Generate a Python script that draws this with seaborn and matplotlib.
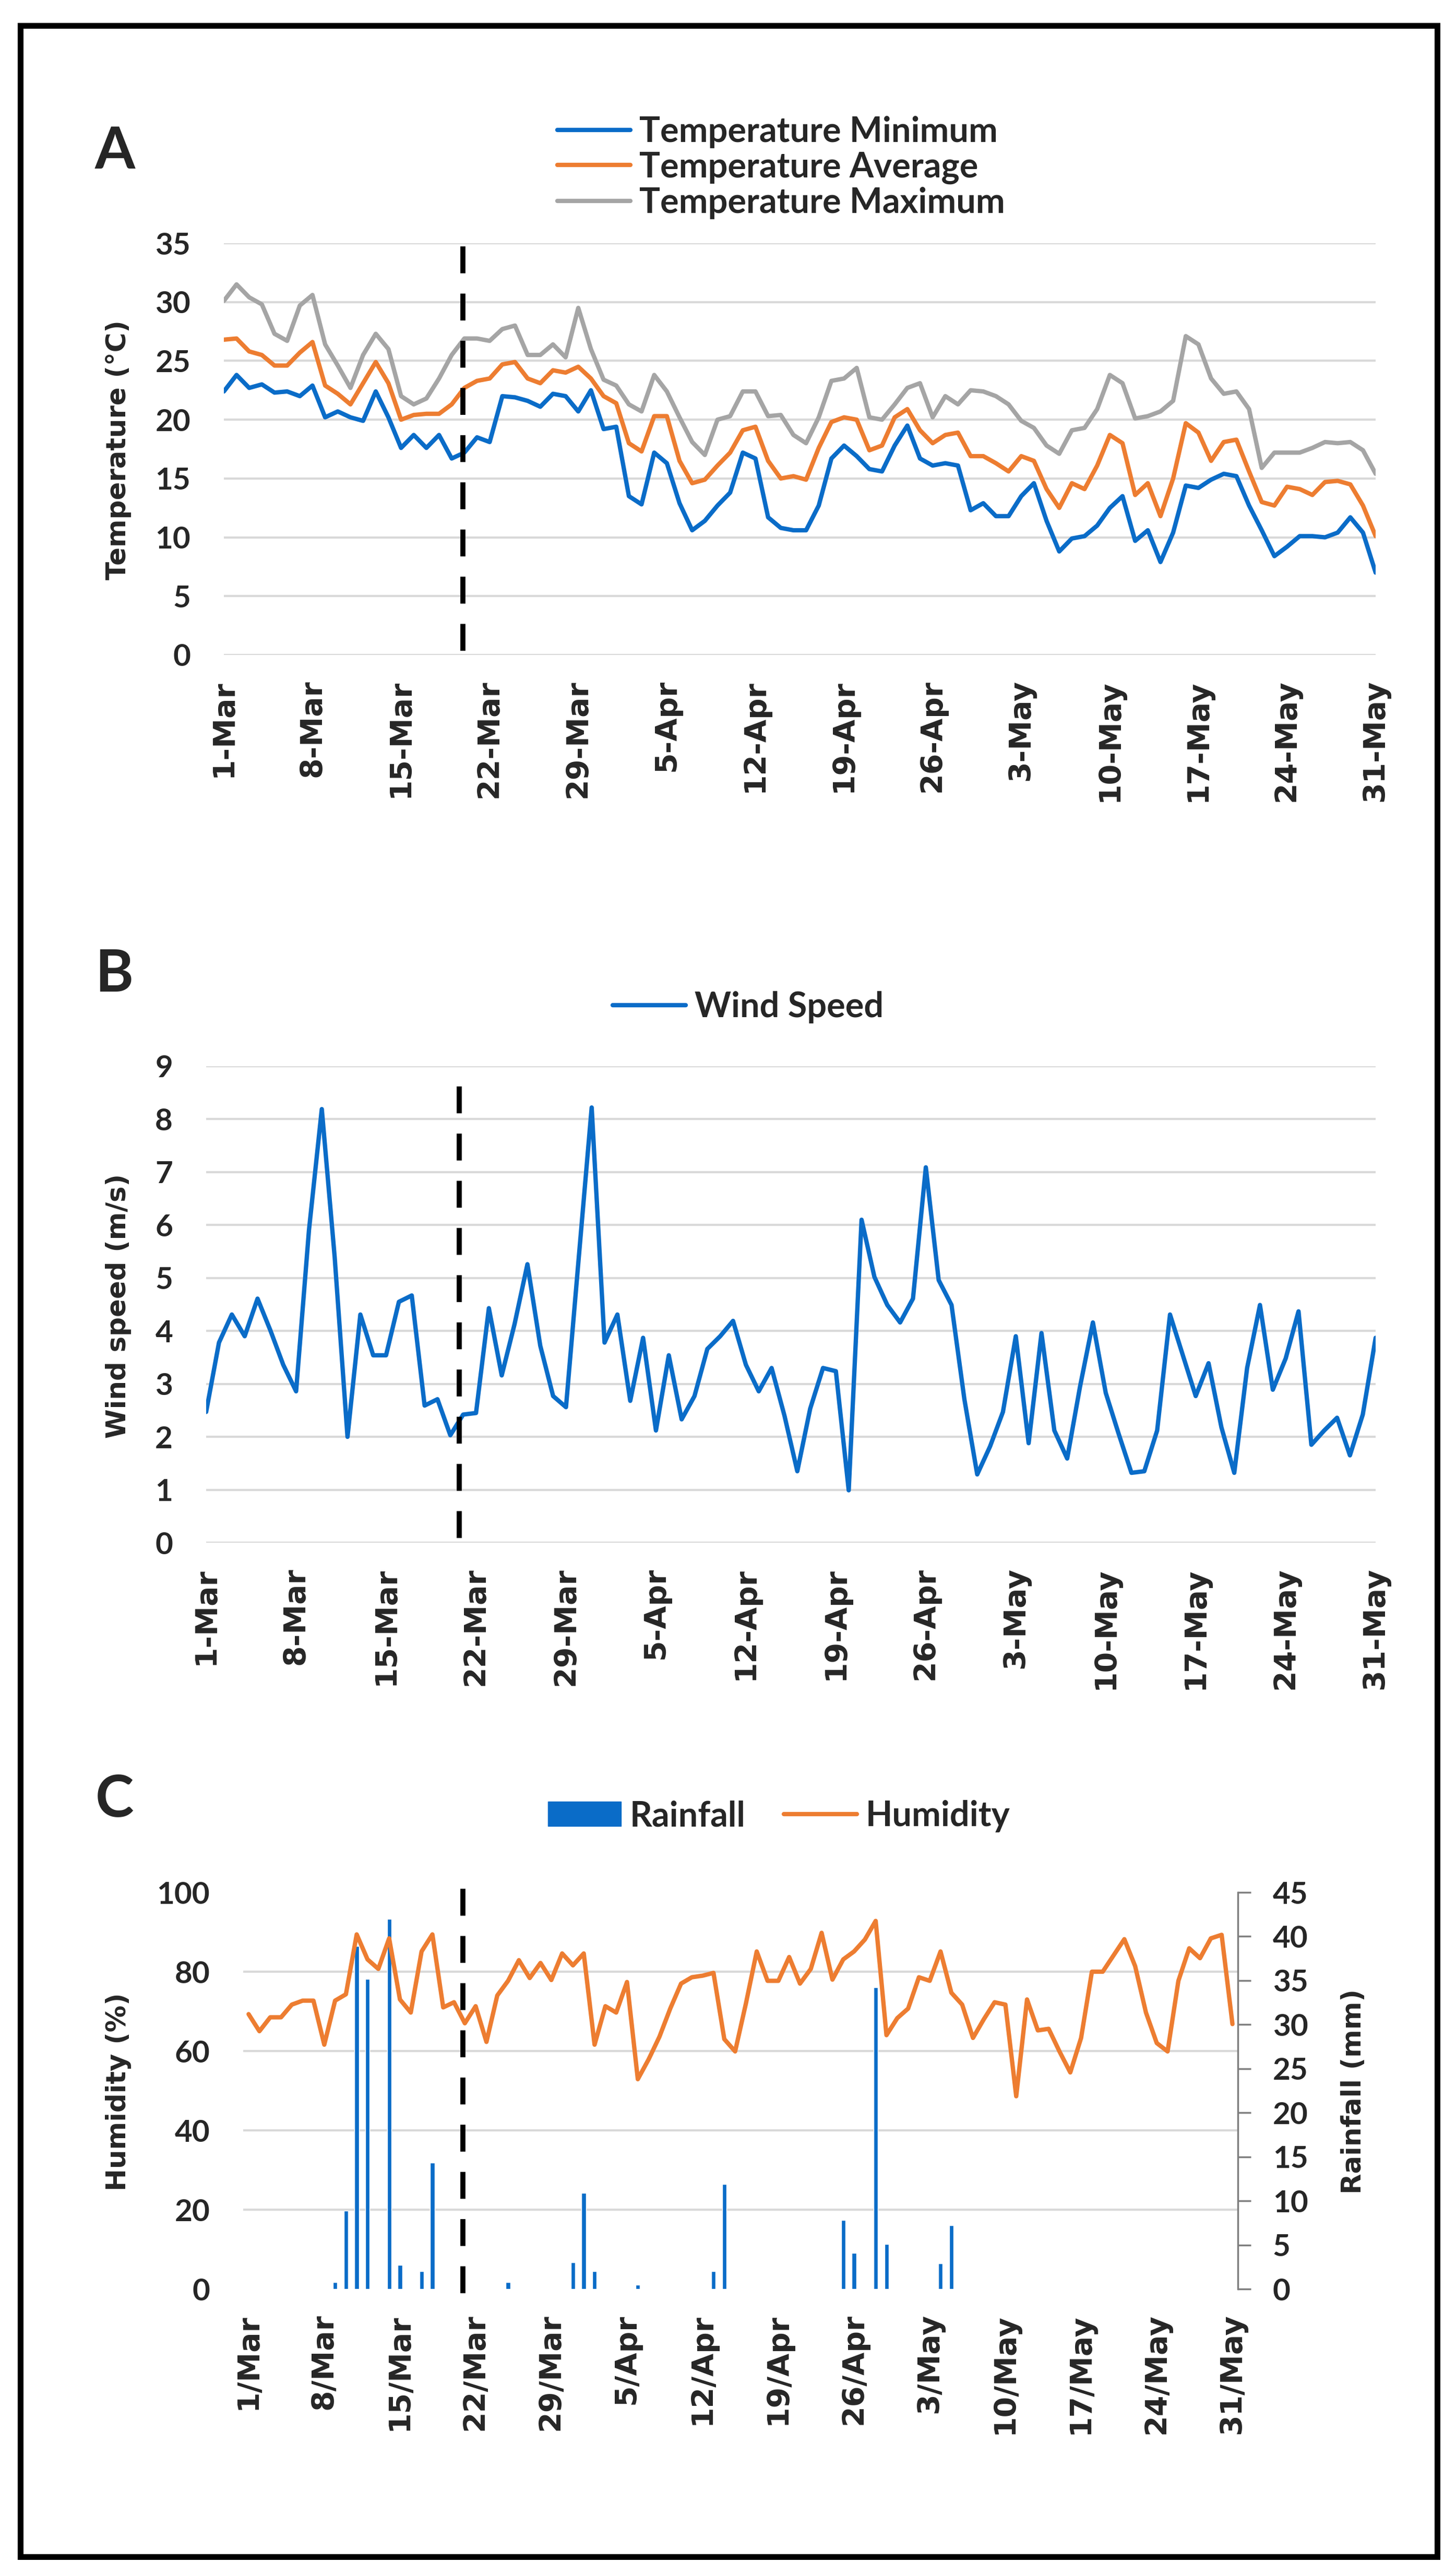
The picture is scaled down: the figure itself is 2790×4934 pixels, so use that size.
import matplotlib
matplotlib.use("Agg")
import matplotlib.pyplot as plt
from matplotlib.patches import Rectangle, Patch
from matplotlib.lines import Line2D
import numpy as np
import pandas as pd
import seaborn as sns

# daily values, 1 Mar .. 31 May (92 days)
t_min = [22.4, 23.8, 22.7, 23.0, 22.3, 22.4, 22.0, 22.9, 20.2, 20.7,
         20.2, 19.9, 22.4, 20.2, 17.6, 18.7, 17.6, 18.7, 16.7, 17.2,
         18.5, 18.1, 22.0, 21.9, 21.6, 21.1, 22.2, 22.0, 20.7, 22.5,
         19.2, 19.4, 13.5, 12.8, 17.2, 16.3, 12.9, 10.6, 11.4, 12.7,
         13.8, 17.2, 16.7, 11.7, 10.8, 10.6, 10.6, 12.7, 16.7, 17.8,
         16.9, 15.8, 15.6, 17.8, 19.5, 16.7, 16.1, 16.3, 16.1, 12.3,
         12.9, 11.8, 11.8, 13.5, 14.6, 11.4, 8.8, 9.9, 10.1, 11.0,
         12.5, 13.5, 9.7, 10.6, 7.9, 10.4, 14.4, 14.2, 14.9, 15.4,
         15.2, 12.7, 10.6, 8.4, 9.2, 10.1, 10.1, 10.0, 10.4, 11.7,
         10.4, 7.0]
t_avg = [26.8, 26.9, 25.8, 25.5, 24.6, 24.6, 25.7, 26.6, 22.9, 22.2,
         21.3, 23.1, 24.9, 23.1, 20.0, 20.4, 20.5, 20.5, 21.3, 22.7,
         23.3, 23.5, 24.7, 24.9, 23.5, 23.1, 24.2, 24.0, 24.5, 23.5,
         22.0, 21.4, 18.0, 17.3, 20.3, 20.3, 16.5, 14.6, 14.9, 16.1,
         17.2, 19.1, 19.4, 16.5, 15.0, 15.2, 14.9, 17.6, 19.8, 20.2,
         20.0, 17.4, 17.8, 20.2, 20.9, 19.1, 18.0, 18.7, 18.9, 16.9,
         16.9, 16.3, 15.6, 16.9, 16.5, 14.1, 12.5, 14.6, 14.1, 16.1,
         18.7, 18.0, 13.6, 14.6, 11.8, 15.0, 19.7, 18.9, 16.5, 18.1,
         18.3, 15.6, 13.0, 12.7, 14.3, 14.1, 13.6, 14.7, 14.8, 14.5,
         12.7, 10.1]
t_max = [30.1, 31.5, 30.4, 29.8, 27.3, 26.7, 29.7, 30.6, 26.4, 24.6,
         22.7, 25.5, 27.3, 26.0, 22.0, 21.3, 21.8, 23.5, 25.5, 26.9,
         26.9, 26.7, 27.7, 28.0, 25.5, 25.5, 26.4, 25.3, 29.5, 26.0,
         23.4, 22.9, 21.3, 20.7, 23.8, 22.4, 20.2, 18.1, 17.0, 20.0,
         20.3, 22.4, 22.4, 20.3, 20.4, 18.7, 18.0, 20.2, 23.3, 23.5,
         24.4, 20.2, 20.0, 21.3, 22.7, 23.1, 20.2, 22.0, 21.3, 22.5,
         22.4, 22.0, 21.3, 19.9, 19.3, 17.8, 17.1, 19.1, 19.3, 20.9,
         23.8, 23.1, 20.1, 20.3, 20.7, 21.6, 27.1, 26.4, 23.5, 22.2,
         22.4, 20.9, 15.9, 17.2, 17.2, 17.2, 17.6, 18.1, 18.0, 18.1,
         17.4, 15.4]
wind = [2.47, 3.78, 4.31, 3.90, 4.61, 4.01, 3.36, 2.86, 5.90, 8.19,
        5.40, 2.00, 4.31, 3.54, 3.54, 4.55, 4.67, 2.59, 2.71, 2.03,
        2.42, 2.45, 4.43, 3.16, 4.13, 5.26, 3.72, 2.77, 2.56, 5.40,
        8.22, 3.78, 4.31, 2.68, 3.87, 2.12, 3.54, 2.33, 2.77, 3.66,
        3.90, 4.19, 3.36, 2.86, 3.30, 2.40, 1.35, 2.53, 3.30, 3.24,
        0.99, 6.10, 5.02, 4.49, 4.16, 4.61, 7.09, 4.96, 4.49, 2.71,
        1.29, 1.82, 2.47, 3.90, 1.88, 3.96, 2.12, 1.59, 2.95, 4.16,
        2.83, 2.06, 1.32, 1.35, 2.12, 4.31, 3.54, 2.77, 3.39, 2.18,
        1.32, 3.30, 4.49, 2.89, 3.48, 4.37, 1.85, 2.12, 2.36, 1.65,
        2.42, 3.87]
humidity = [69.3, 65.0, 68.5, 68.5, 71.7, 72.7, 72.7, 61.6, 72.7, 74.3,
            89.4, 83.1, 80.7, 88.4, 73.0, 69.7, 85.1, 89.4, 71.0, 72.3,
            67.0, 71.3, 62.3, 74.0, 77.7, 82.9, 78.4, 82.2, 77.9, 84.6,
            81.6, 84.6, 61.6, 71.3, 69.7, 77.4, 52.9, 57.9, 63.6, 70.7,
            77.0, 78.6, 79.0, 79.7, 63.0, 59.9, 72.0, 85.1, 77.7, 77.7,
            83.7, 77.0, 80.7, 89.8, 78.0, 83.1, 85.1, 88.1, 92.8, 64.0,
            68.3, 70.7, 78.6, 77.7, 85.1, 74.7, 71.7, 63.3, 68.0, 72.3,
            71.7, 48.6, 73.0, 65.2, 65.6, 59.9, 54.6, 63.3, 80.0, 80.0,
            84.1, 88.2, 81.4, 69.7, 62.0, 59.9, 77.7, 85.9, 83.4, 88.4,
            89.3, 66.8]
rainfall = [0, 0, 0, 0, 0, 0, 0, 0, 0.75, 8.9,
            38.9, 35.2, 0, 42.0, 2.7, 0, 2.0, 14.3, 0, 0,
            0, 0, 0, 0, 0.75, 0, 0, 0, 0, 0,
            3.0, 10.9, 2.0, 0, 0, 0, 0.5, 0, 0, 0,
            0, 0, 0, 2.0, 11.9, 0, 0, 0, 0, 0,
            0, 0, 0, 0, 0, 7.8, 4.1, 0, 34.2, 5.1,
            0, 0, 0, 0, 2.9, 7.2, 0, 0, 0, 0,
            0, 0, 0, 0, 0, 0, 0, 0, 0, 0,
            0, 0, 0, 0, 0, 0, 0, 0, 0, 0,
            0, 0]

tick_days = [0, 7, 14, 21, 28, 35, 42, 49, 56, 63, 70, 77, 84, 91]
labels_dash = ['1-Mar', '8-Mar', '15-Mar', '22-Mar', '29-Mar', '5-Apr', '12-Apr',
               '19-Apr', '26-Apr', '3-May', '10-May', '17-May', '24-May', '31-May']
labels_slash = ['1/Mar', '8/Mar', '15/Mar', '22/Mar', '29/Mar', '5/Apr', '12/Apr',
                '19/Apr', '26/Apr', '3/May', '10/May', '17/May', '24/May', '31/May']

day = np.arange(len(t_min))

sns.set_theme(style="white")
plt.rcParams['font.family'] = ['DejaVu Sans']

BLUE = "#0A6CC8"
ORANGE = "#ED7D31"
GREY = "#A5A5A5"
GRID = "#D9D9D9"
LW = 6
W, H = 2790, 4934

fig = plt.figure(figsize=(W / 100, H / 100), dpi=100)
fig.patch.set_facecolor("white")


def box(l, t, r, b):
    return [l / W, 1 - b / H, (r - l) / W, (b - t) / H]


def style(ax, xlabels, ypad=46):
    ax.set_xticks(tick_days)
    ax.set_xticklabels(xlabels, rotation=90, fontsize=41, fontweight='bold',
                       family='DejaVu Sans')
    ax.tick_params(axis='x', length=0, pad=34)
    ax.tick_params(axis='y', length=0, pad=ypad)
    plt.setp(ax.get_yticklabels(), family='Lato', fontweight='bold', fontsize=42)
    for s in ax.spines.values():
        s.set_visible(False)
    ax.set_xlabel('')
    ax.set_ylabel('')


def dashed(ax, x, lo, hi):
    ax.axvline(x, ymin=lo, ymax=hi, color='black', lw=7, dashes=(5.3, 4),
               clip_on=False, zorder=5)


legend_font = {'family': 'Lato', 'weight': 'bold', 'size': 48}
label_kw = dict(rotation=90, ha='center', va='center', fontsize=37,
                fontweight='bold', family='DejaVu Sans')

# ---- A: temperature
axA = fig.add_axes(box(429, 466, 2636, 1255))
sns.lineplot(x=day, y=t_min, color=BLUE, lw=LW, ax=axA, label='Temperature Minimum')
sns.lineplot(x=day, y=t_avg, color=ORANGE, lw=LW, ax=axA, label='Temperature Average')
sns.lineplot(x=day, y=t_max, color=GREY, lw=LW, ax=axA, label='Temperature Maximum')
axA.set_xlim(0, 91)
axA.set_ylim(0, 35)
axA.set_yticks(range(0, 36, 5))
axA.grid(axis='y', color=GRID, lw=3)
axA.grid(axis='x', visible=False)
style(axA, labels_dash)
dashed(axA, 18.9, 0.01, 1.01)
hA, lA = axA.get_legend_handles_labels()
axA.get_legend().remove()
fig.legend(hA, lA, loc='center left', bbox_to_anchor=(1068 / W, 1 - 321 / H),
           frameon=False, prop=legend_font, handlelength=2.1, handletextpad=0.25,
           labelspacing=0.08, borderpad=0, borderaxespad=0)
fig.text(227 / W, 1 - 862 / H, 'Temperature (°C)', **label_kw)
fig.text(220 / W, 1 - 323 / H, 'A', fontsize=80, fontweight='bold', family='Lato',
         ha='center', va='baseline')

# ---- B: wind speed
axB = fig.add_axes(box(395, 2043, 2636, 2956))
sns.lineplot(x=day, y=wind, color=BLUE, lw=LW, ax=axB, label='Wind Speed')
axB.set_xlim(0, 91)
axB.set_ylim(0, 9)
axB.set_yticks(range(0, 10))
axB.grid(axis='y', color=GRID, lw=3)
axB.grid(axis='x', visible=False)
style(axB, labels_dash)
dashed(axB, 19.7, 0.01, 0.972)
hB, lB = axB.get_legend_handles_labels()
axB.get_legend().remove()
fig.legend(hB, lB, loc='center left', bbox_to_anchor=(1174 / W, 1 - 1930 / H),
           frameon=False, prop=legend_font, handlelength=2.1, handletextpad=0.25,
           borderpad=0, borderaxespad=0)
fig.text(227 / W, 1 - 2502 / H, 'Wind speed (m/s)', **label_kw)
fig.text(220 / W, 1 - 1900 / H, 'B', fontsize=80, fontweight='bold', family='Lato',
         ha='center', va='baseline')

# ---- C: rainfall (right axis, bars) and humidity (left axis, line)
axC = fig.add_axes(box(466, 3626, 2372, 4386))
axR = axC.twinx()
sns.barplot(x=day, y=rainfall, native_scale=True, width=0.4, color=BLUE,
            saturation=1, errorbar=None, ax=axR)
axR.set_ylim(0, 45)
axR.set_yticks(range(0, 46, 5))
axR.set_yticks(np.arange(0, 46, 9), minor=True)
axR.grid(which='major', visible=False)
axR.grid(which='minor', axis='y', color=GRID, lw=3)
axR.set_axisbelow(True)
axR.tick_params(axis='y', which='major', length=18, width=2.5, color='#7F7F7F',
                pad=30, right=True)
axR.tick_params(axis='y', which='minor', length=0)
plt.setp(axR.get_yticklabels(), family='Lato', fontweight='bold', fontsize=42)
for name, s in axR.spines.items():
    s.set_visible(name == 'right')
axR.spines['right'].set_color('#7F7F7F')
axR.spines['right'].set_linewidth(2.5)
axR.set_ylabel('')

sns.lineplot(x=day, y=humidity, color=ORANGE, lw=LW, ax=axC)
axC.set_zorder(axR.get_zorder() + 1)
axC.patch.set_visible(False)
axC.set_xlim(-0.5, 91.5)
axC.set_ylim(0, 100)
axC.set_yticks(range(0, 101, 20))
axC.grid(False)
style(axC, labels_slash)
dashed(axC, 19.8, -0.01, 1.022)

handlesC = [Patch(color=BLUE), Line2D([], [], color=ORANGE, lw=LW)]
fig.legend(handlesC, ['Rainfall', 'Humidity'], loc='center left',
           bbox_to_anchor=(1050 / W, 1 - 3480 / H), ncol=2, frameon=False,
           prop=legend_font, handlelength=2.1, handletextpad=0.25,
           columnspacing=1.1, borderpad=0, borderaxespad=0)
fig.text(227 / W, 1 - 4008 / H, 'Humidity (%)', **label_kw)
fig.text(2594 / W, 1 - 4008 / H, 'Rainfall (mm)', **label_kw)
fig.text(220 / W, 1 - 3481 / H, 'C', fontsize=80, fontweight='bold', family='Lato',
         ha='center', va='baseline')

# outer frame
fig.add_artist(Rectangle((39 / W, 1 - 4899 / H), (2754 - 39) / W, (4899 - 49) / H,
                         transform=fig.transFigure, fill=False, lw=8, ec='black'))

fig.savefig('out.png', dpi=100)
